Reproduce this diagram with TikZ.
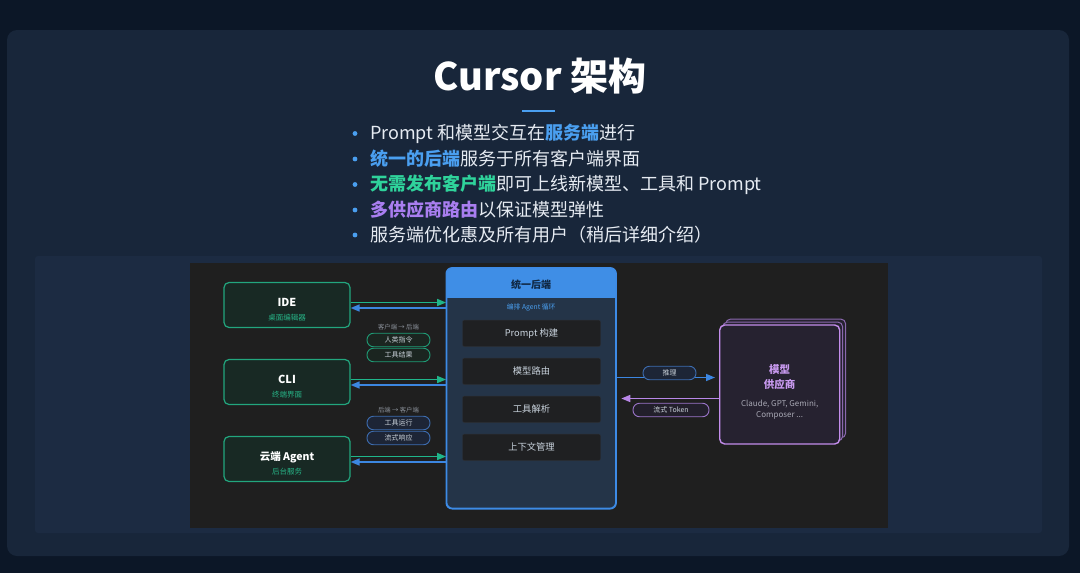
\documentclass[tikz,border=0pt]{standalone}
\usepackage{fontspec}
\setmainfont{Noto Sans CJK SC}
\usetikzlibrary{positioning,shapes,shadows,arrows.meta}
\definecolor{pagebg}{HTML}{0C1727}
\definecolor{cardbg}{HTML}{18263A}
\definecolor{panelbg}{HTML}{1C2B42}
\definecolor{shotbg}{HTML}{1F1F1F}
\definecolor{ctext}{HTML}{E6EBF2}
\definecolor{cblue}{HTML}{4A9FF0}
\definecolor{cgreen}{HTML}{2FD39B}
\definecolor{cpurple}{HTML}{A97EF0}
\definecolor{cnodeg}{HTML}{22A67E}
\definecolor{cnodegbg}{HTML}{182924}
\definecolor{csubg}{HTML}{27B487}
\definecolor{carrowg}{HTML}{1FB58A}
\definecolor{carrowb}{HTML}{3C86E0}
\definecolor{carrowp}{HTML}{B987E8}
\definecolor{chub}{HTML}{3D8BE6}
\definecolor{chubbg}{HTML}{243448}
\definecolor{chead}{HTML}{3F8EE6}
\definecolor{cheadtext}{HTML}{102845}
\definecolor{cstep}{HTML}{1F2022}
\definecolor{cstepline}{HTML}{2C3036}
\definecolor{csteptext}{HTML}{C8D2DC}
\definecolor{cgrey}{HTML}{8A9099}
\definecolor{cpilltext}{HTML}{C8D0D8}
\definecolor{cpillg}{HTML}{1F9C76}
\definecolor{cpillgbg}{HTML}{1B2520}
\definecolor{cpillb}{HTML}{3D6DB0}
\definecolor{cpillbbg}{HTML}{1D2536}
\definecolor{cpillp}{HTML}{9B74C9}
\definecolor{cpillpbg}{HTML}{221F2B}
\definecolor{cprov}{HTML}{C38DEB}
\definecolor{cprovdim}{HTML}{8A68AD}
\definecolor{cprovbg}{HTML}{262230}
\definecolor{cprovtext}{HTML}{C99AF0}
\definecolor{cprovsub}{HTML}{A8A8B4}
\tikzstyle{title} = [text=white, font=\bfseries\fontsize{38}{42}\selectfont]
\tikzstyle{bullet} = [anchor=west, inner sep=0pt, text=ctext, font=\fontsize{18}{20}\selectfont]
\tikzstyle{client} = [draw=cnodeg, fill=cnodegbg, rounded corners=5pt, line width=1.2pt, minimum width=126pt, minimum height=45pt]
\tikzstyle{clienttext} = [align=center, text=white, font=\fontsize{7.5}{13.7}\selectfont]
\tikzstyle{hub} = [draw=chub, fill=chubbg, line width=1.2pt, rounded corners=6pt, minimum width=169pt, minimum height=240pt]
\tikzstyle{stepbox} = [fill=cstep, draw=cstepline, rounded corners=2pt, minimum width=138pt, minimum height=26.5pt, text=csteptext, font=\fontsize{9.3}{10}\selectfont]
\tikzstyle{provider} = [draw=cprov, fill=cprovbg, line width=1.4pt, rounded corners=5pt, minimum width=120pt, minimum height=119pt,
  copy shadow={shadow xshift=6pt, shadow yshift=6pt, fill=cprovbg, draw=cprovdim, line width=1pt},
  copy shadow={shadow xshift=3pt, shadow yshift=3pt, fill=cprovbg, draw=cprovdim, line width=1pt}]
\tikzstyle{provtext} = [align=center, font=\fontsize{8}{14.3}\selectfont]
\tikzstyle{pill} = [draw, line width=0.9pt, rounded corners=6.5pt, minimum height=13.5pt, inner sep=0pt, text=cpilltext, font=\fontsize{7}{8}\selectfont]
\tikzstyle{tag} = [text=cgrey, font=\fontsize{6.3}{7}\selectfont]
\tikzstyle{gline} = [draw=carrowg, line width=1.5pt, -{Triangle[length=9pt,width=7pt]}]
\tikzstyle{bline} = [draw=carrowb, line width=1.5pt, -{Triangle[length=9pt,width=7pt]}]
\tikzstyle{pline} = [draw=carrowp, line width=1.5pt, -{Triangle[length=9pt,width=7pt]}]
\pgfdeclarelayer{background}
\pgfsetlayers{background,main}
\begin{document}
\begin{tikzpicture}[x=1pt, y=-1pt, node distance=77pt]
    \useasboundingbox (0,0) rectangle (1080,573);

    % Place nodes
    \node [title] (title) at (540,76) {Cursor 架构};
    \node [bullet] (b1) at (370,133.5) {Prompt 和模型交互在\textcolor{cblue}{\bfseries 服务端}进行};
    \node [bullet] (b2) at (370,159) {\textcolor{cblue}{\bfseries 统一的后端}服务于所有客户端界面};
    \node [bullet] (b3) at (370,184.5) {\textcolor{cgreen}{\bfseries 无需发布客户端}即可上线新模型、工具和 Prompt};
    \node [bullet] (b4) at (370,210) {\textcolor{cpurple}{\bfseries 多供应商路由}以保证模型弹性};
    \node [bullet] (b5) at (370,235) {服务端优化惠及所有用户（稍后详细介绍）};

    \node [client] (ide) at (287,305) {};
    \node [client, below of=ide] (cli) {};
    \node [client, below of=cli] (agent) {};
    \node [clienttext] (ide-txt) at ([yshift=-4.5pt]ide.center) {{\bfseries\fontsize{11}{13.7}\selectfont IDE}\\{\color{csubg}桌面编辑器}};
    \node [clienttext] (cli-txt) at ([yshift=-4.5pt]cli.center) {{\bfseries\fontsize{11}{13.7}\selectfont CLI}\\{\color{csubg}终端界面}};
    \node [clienttext] (agent-txt) at ([yshift=-4.5pt]agent.center) {{\bfseries\fontsize{10.5}{13.7}\selectfont 云端 Agent}\\{\color{csubg}后台服务}};

    \node [hub] (back) at (531.2,388.3) {};
    \node [stepbox] (prompt) at (531.5,333.3) {Prompt 构建};
    \node [stepbox, below of=prompt, node distance=38pt] (route) {模型路由};
    \node [stepbox, below of=route, node distance=38pt] (parse) {工具解析};
    \node [stepbox, below of=parse, node distance=38pt] (ctx) {上下文管理};

    \node [provider] (prov) at (779.7,384.5) {};
    \node [provtext] (prov-txt) at ([yshift=-7.5pt]prov.center) {{\bfseries\color{cprovtext}\fontsize{10.5}{14.3}\selectfont 模型}\\{\bfseries\color{cprovtext}\fontsize{10.5}{14.3}\selectfont 供应商}\\[4pt]{\color{cprovsub}Claude, GPT, Gemini,}\\[-3.5pt]{\color{cprovsub}Composer ...}};

    \node [tag] (up) at (398.5,327) {客户端 → 后端};
    \node [tag] (down) at (398.5,410) {后端 → 客户端};

    % Draw edges
    \path [gline] ([yshift=2.5pt]ide.east) -- ([yshift=2.5pt]ide.east -| back.west);
    \path [bline] ([yshift=-3pt]ide.east -| back.west) -- ([yshift=-3pt]ide.east);
    \path [gline] ([yshift=2.5pt]cli.east) -- ([yshift=2.5pt]cli.east -| back.west);
    \path [bline] ([yshift=-3pt]cli.east -| back.west) -- ([yshift=-3pt]cli.east);
    \path [gline] ([yshift=2.5pt]agent.east) -- ([yshift=2.5pt]agent.east -| back.west);
    \path [bline] ([yshift=-3pt]agent.east -| back.west) -- ([yshift=-3pt]agent.east);
    \path [bline, shorten >=4pt] ([yshift=7pt]prov.west -| back.east) -- ([yshift=7pt]prov.west);
    \path [pline, shorten >=5pt] ([yshift=-14pt]prov.west) -- ([yshift=-14pt]prov.west -| back.east);

    % Pills on the links
    \node [pill, draw=cpillg, fill=cpillgbg, minimum width=63pt, below of=up, node distance=13pt] (human) {人类指令};
    \node [pill, draw=cpillg, fill=cpillgbg, minimum width=63pt, below of=human, node distance=15pt] (toolres) {工具结果};
    \node [pill, draw=cpillb, fill=cpillbbg, minimum width=63pt, below of=down, node distance=13pt] (toolrun) {工具运行};
    \node [pill, draw=cpillb, fill=cpillbbg, minimum width=63pt, below of=toolrun, node distance=15pt] (stream) {流式响应};
    \node [pill, draw=cpillb, fill=cpillbbg, minimum width=53pt] (infer) at (669.5,373) {推理};
    \node [pill, draw=cpillp, fill=cpillpbg, minimum width=76pt] (tokens) at (671,410) {流式 Token};

    % Backend header and bullets
    \fill [chead, rounded corners=6pt] (back.north west) rectangle ([yshift=-30pt]back.north east);
    \fill [chead] ([yshift=-20pt]back.north west) rectangle ([yshift=-30pt]back.north east);
    \draw [chub, line width=1.2pt, rounded corners=6pt] (back.north west) rectangle (back.south east);
    \node [text=cheadtext, font=\bfseries\fontsize{10}{11}\selectfont] (head) at ([yshift=-17pt]back.north) {统一后端};
    \node [text=cblue, font=\fontsize{6.8}{7}\selectfont] (loop) at ([yshift=-39.5pt]back.north) {编排 Agent 循环};
    \draw [cblue, line width=2pt] (522,110.7) -- (555,110.7);
    \fill [cblue] ([xshift=-15pt]b1.west) circle (2.4pt);
    \fill [cblue] ([xshift=-15pt]b2.west) circle (2.4pt);
    \fill [cblue] ([xshift=-15pt]b3.west) circle (2.4pt);
    \fill [cblue] ([xshift=-15pt]b4.west) circle (2.4pt);
    \fill [cblue] ([xshift=-15pt]b5.west) circle (2.4pt);

    \begin{pgfonlayer}{background}
      \fill [pagebg] (0,0) rectangle (1080,573);
      \fill [cardbg, rounded corners=10pt] (7,30) rectangle (1069,556);
      \fill [panelbg, rounded corners=3pt] (35,256) rectangle (1042,533);
      \fill [shotbg] (190,263) rectangle (888,528);
    \end{pgfonlayer}
\end{tikzpicture}
\end{document}
